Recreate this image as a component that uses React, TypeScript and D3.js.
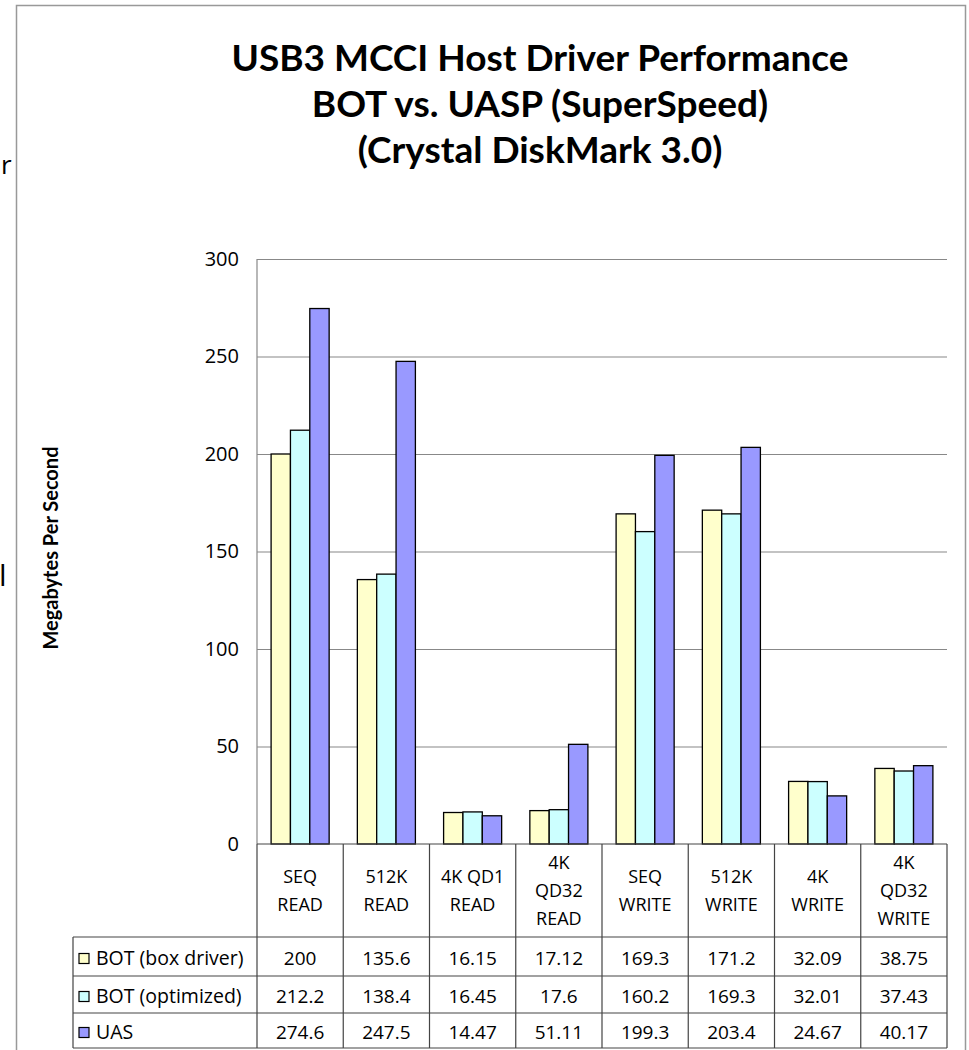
import { useEffect, useRef } from 'react'
import * as d3 from 'd3'

const categories = [
  ['SEQ', 'READ'],
  ['512K', 'READ'],
  ['4K QD1', 'READ'],
  ['4K', 'QD32', 'READ'],
  ['SEQ', 'WRITE'],
  ['512K', 'WRITE'],
  ['4K', 'WRITE'],
  ['4K', 'QD32', 'WRITE'],
]
const seriesNames = ['BOT (box driver)', 'BOT (optimized)', 'UAS']
const boxDriver = [200, 135.6, 16.15, 17.12, 169.3, 171.2, 32.09, 38.75]
const optimized = [212.2, 138.4, 16.45, 17.6, 160.2, 169.3, 32.01, 37.43]
const uas = [274.6, 247.5, 14.47, 51.11, 199.3, 203.4, 24.67, 40.17]
const seriesColors = ['#FFFFCC', '#CCFFFF', '#9999FF']
const yTicks = [0, 50, 100, 150, 200, 250, 300]
const titleLines = [
  'USB3 MCCI Host Driver Performance',
  'BOT vs. UASP (SuperSpeed)',
  '(Crystal DiskMark 3.0)',
]

function App() {
  const ref = useRef<SVGSVGElement>(null)

  useEffect(() => {
    const series = [boxDriver, optimized, uas]
    const W = 969, H = 1050
    const left = 257, right = 947, top = 259, bottom = 844
    const tableLeft = 73
    const rowTops = [937, 976, 1013, 1048]
    const font = "'Open Sans', sans-serif"
    const lineCol = '#444'

    const svg = d3.select(ref.current)
    svg.selectAll('*').remove()
    svg.attr('width', W).attr('height', H)

    svg.append('rect').attr('width', W).attr('height', H).attr('fill', '#fff')

    // frame of the chart object (cut off at the bottom)
    svg.append('path')
      .attr('d', `M16.5,${H} V5.5 H965.5 V${H}`)
      .attr('fill', 'none').attr('stroke', '#999').attr('stroke-width', 1.5)

    // stray letters from the neighbouring text
    svg.append('text').attr('x', 1).attr('y', 174).text('r')
      .style('font', `26px ${font}`).attr('fill', '#000')
    svg.append('text').attr('x', -1).attr('y', 586).text('l')
      .style('font', `30px ${font}`).attr('fill', '#000')

    // title
    svg.append('g').selectAll('text')
      .data(titleLines)
      .enter().append('text')
      .attr('x', 540)
      .attr('y', (d, i) => 71 + i * 46)
      .attr('text-anchor', 'middle')
      .style('font', `bold 37px Lato, sans-serif`)
      .attr('fill', '#000')
      .text(d => d)

    const x = d3.scaleBand<number>()
      .domain(d3.range(categories.length))
      .range([left, right])
      .paddingInner(0.327)
      .paddingOuter(0.1635)
    const xs = d3.scaleBand<number>()
      .domain(d3.range(series.length))
      .range([0, x.bandwidth()])
    const y = d3.scaleLinear().domain([0, 300]).range([bottom, top])

    // grid + tick labels
    const axis = svg.append('g')
      .attr('transform', `translate(${left},0)`)
      .call(d3.axisLeft(y).tickValues(yTicks).tickSize(-(right - left)).tickPadding(18).tickFormat(d3.format('d')))
    axis.select('.domain').remove()
    axis.selectAll('.tick line').attr('stroke', '#888').attr('stroke-width', 1.2)
      .filter((d: any) => d === 0).remove()
    axis.selectAll('.tick text').style('font', `20px ${font}`).attr('fill', '#000')

    svg.append('line')
      .attr('x1', left).attr('x2', left).attr('y1', top).attr('y2', bottom)
      .attr('stroke', '#888').attr('stroke-width', 1.2)

    // y title
    svg.append('text')
      .attr('transform', `translate(58,548) rotate(-90)`)
      .attr('text-anchor', 'middle')
      .style('font', `bold 20px Lato, sans-serif`)
      .attr('fill', '#000')
      .text('Megabytes Per Second')

    // bars
    const groups = svg.append('g').selectAll('g')
      .data(series)
      .enter().append('g')
      .attr('fill', (d, i) => seriesColors[i])
    groups.each(function (vals, si) {
      d3.select(this).selectAll('rect')
        .data(vals)
        .enter().append('rect')
        .attr('x', (d, ci) => (x(ci) as number) + (xs(si) as number))
        .attr('y', d => y(d))
        .attr('width', xs.bandwidth())
        .attr('height', d => bottom - y(d))
        .attr('stroke', '#000')
        .attr('stroke-width', 1.3)
    })

    // data table
    const step = x.step()
    const colEdges = d3.range(categories.length + 1).map(i => left + i * step)
    const table = svg.append('g').attr('stroke', lineCol).attr('stroke-width', 1.2)
    table.append('line').attr('x1', left).attr('x2', right).attr('y1', bottom).attr('y2', bottom)
    rowTops.forEach(yy => {
      table.append('line').attr('x1', tableLeft).attr('x2', right).attr('y1', yy).attr('y2', yy)
    })
    colEdges.forEach(xx => {
      table.append('line').attr('x1', xx).attr('x2', xx).attr('y1', bottom).attr('y2', rowTops[3])
    })
    table.append('line').attr('x1', tableLeft).attr('x2', tableLeft).attr('y1', rowTops[0]).attr('y2', rowTops[3])

    // category header text
    const headTop = bottom, headH = rowTops[0] - bottom
    categories.forEach((lines, ci) => {
      const cx = left + (ci + 0.5) * step
      const lh = 28
      const y0 = headTop + headH / 2 - ((lines.length - 1) * lh) / 2
      lines.forEach((t, li) => {
        svg.append('text')
          .attr('x', cx).attr('y', y0 + li * lh)
          .attr('dy', '0.35em')
          .attr('text-anchor', 'middle')
          .style('font', `18px ${font}`)
          .attr('fill', '#000')
          .text(t)
      })
    })

    // rows
    series.forEach((vals, si) => {
      const cy = (rowTops[si] + rowTops[si + 1]) / 2 + 2
      svg.append('rect')
        .attr('x', 79).attr('y', cy - 5).attr('width', 10).attr('height', 10)
        .attr('fill', seriesColors[si]).attr('stroke', '#000').attr('stroke-width', 1.2)
      svg.append('text')
        .attr('x', 96).attr('y', cy).attr('dy', '0.35em')
        .style('font', `19.5px ${font}`).attr('fill', '#000')
        .text(seriesNames[si])
      vals.forEach((v, ci) => {
        svg.append('text')
          .attr('x', left + (ci + 0.5) * step).attr('y', cy).attr('dy', '0.35em')
          .attr('text-anchor', 'middle')
          .style('font', `19px ${font}`).attr('fill', '#000')
          .text(String(v))
      })
    })
  }, [])

  return (
    <svg ref={ref} style={{ position: 'absolute', left: 0, top: 0 }} />
  )
}

export default App
